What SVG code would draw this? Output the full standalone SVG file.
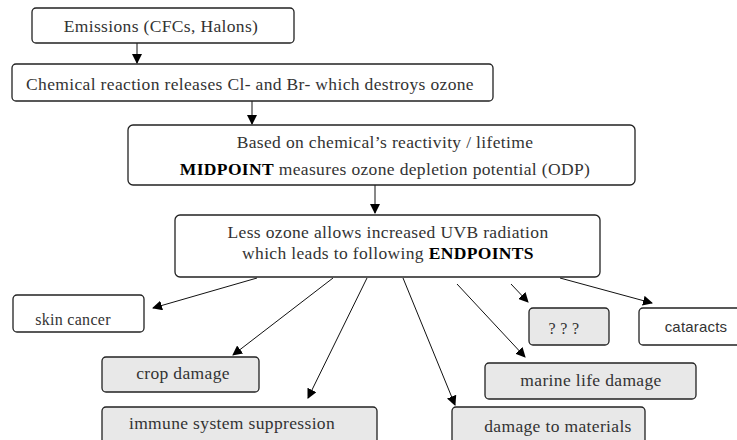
<svg xmlns="http://www.w3.org/2000/svg" width="737" height="440" viewBox="0 0 737 440">
<style>
.box{fill:#fff;stroke:#222;stroke-width:1.3}
.grey{fill:#e8e8e8;stroke:#222;stroke-width:1.3}
.t{font-family:"Liberation Serif","Times New Roman",serif;font-size:17.5px;letter-spacing:0.35px;fill:#333;text-anchor:middle}
.sm{font-size:16px;letter-spacing:0.3px}
.b{font-weight:bold;fill:#000}
.s{font-family:"Liberation Sans",Arial,sans-serif;font-size:15px;letter-spacing:0.2px;fill:#333;text-anchor:middle}
.c{stroke:#111;stroke-width:1;fill:none;marker-end:url(#ah)}
</style>
<defs>
<marker id="ah" viewBox="0 0 10 10" refX="9" refY="5" markerWidth="10" markerHeight="10" markerUnits="userSpaceOnUse" orient="auto">
<path d="M0,0 L10,5 L0,10 z" fill="#000"/>
</marker>
</defs>
<rect width="737" height="440" fill="#fff"/>
<g id="connectors">
<line class="c" x1="137" y1="43" x2="137" y2="63"/>
<line class="c" x1="252" y1="101" x2="252" y2="124"/>
<line class="c" x1="375" y1="185" x2="375" y2="213"/>
<line class="c" x1="257" y1="278" x2="153" y2="308"/>
<line class="c" x1="333" y1="278" x2="233" y2="355"/>
<line class="c" x1="367" y1="278" x2="308" y2="398"/>
<line class="c" x1="403" y1="278" x2="455" y2="405"/>
<line class="c" x1="457" y1="284" x2="525" y2="357"/>
<line class="c" x1="511" y1="284" x2="528" y2="302"/>
<line class="c" x1="560" y1="278" x2="652" y2="303"/>
</g>
<g id="emissions">
<rect class="box" x="32" y="8" width="262" height="35" rx="4"/>
<text class="t" x="161" y="32">Emissions (CFCs, Halons)</text>
</g>
<g id="reaction">
<rect class="box" x="12" y="64" width="481" height="37" rx="4"/>
<text class="t" x="250" y="90">Chemical reaction releases Cl- and Br- which destroys ozone</text>
</g>
<g id="midpoint">
<rect class="box" x="128" y="125" width="507" height="60" rx="5"/>
<text class="t" x="385" y="148">Based on chemical’s reactivity / lifetime</text>
<text class="t" x="385" y="175"><tspan class="b">MIDPOINT</tspan> measures ozone depletion potential (ODP)</text>
</g>
<g id="uvb">
<rect class="box" x="175" y="215" width="425" height="62" rx="5"/>
<text class="t" x="388" y="238">Less ozone allows increased UVB radiation</text>
<text class="t" x="388" y="259">which leads to following <tspan class="b">ENDPOINTS</tspan></text>
</g>
<g id="skin-cancer">
<rect class="box" x="13" y="295" width="131" height="37" rx="4"/>
<text class="t sm" x="73" y="325">skin cancer</text>
</g>
<g id="crop-damage">
<rect class="grey" x="102" y="357" width="157" height="35" rx="4"/>
<text class="t" x="183" y="379">crop damage</text>
</g>
<g id="immune">
<rect class="grey" x="102" y="407" width="275" height="40" rx="4"/>
<text class="t" x="232" y="429">immune system suppression</text>
</g>
<g id="unknown">
<rect class="grey" x="529" y="308" width="80" height="37" rx="4"/>
<text class="t sm" x="564" y="334">? ? ?</text>
</g>
<g id="cataracts">
<rect class="box" x="639" y="308" width="110" height="37" rx="4"/>
<text class="s" x="696" y="332">cataracts</text>
</g>
<g id="marine">
<rect class="grey" x="485" y="363" width="211" height="36" rx="4"/>
<text class="t" x="591" y="386">marine life damage</text>
</g>
<g id="materials">
<rect class="grey" x="452" y="407" width="193" height="40" rx="4"/>
<text class="t" x="558" y="432">damage to materials</text>
</g>
</svg>
